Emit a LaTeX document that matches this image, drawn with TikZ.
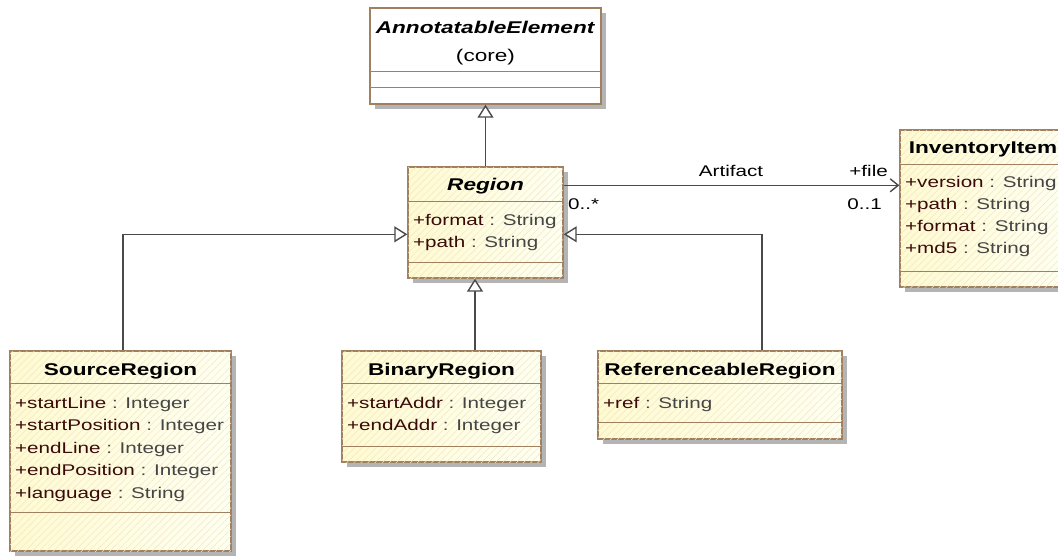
\documentclass[tikz,border=0pt]{standalone}
\usepackage{fontspec}
\setmainfont[FakeStretch=1.33]{Liberation Sans}
\usetikzlibrary{arrows.meta,calc,shadows,patterns.meta}
\definecolor{umlborder}{HTML}{A0805E}
\definecolor{umlfillL}{HTML}{FFFAD0}
\definecolor{umlfillR}{HTML}{FFFFF2}
\definecolor{umlhatch}{HTML}{EEE8C6}
\definecolor{umlshadow}{HTML}{B4B4B4}
\definecolor{umlline}{HTML}{4A4A4A}
\definecolor{attrname}{HTML}{3A0A0A}
\definecolor{attrtype}{HTML}{454545}

\newcommand{\attr}[2]{\textcolor{attrname}{+#1} \textcolor{attrtype}{: #2}}

\tikzset{
  umlclass/.style={draw=umlborder, line width=1.4pt, rectangle, inner sep=0pt,
    drop shadow={shadow xshift=5pt, shadow yshift=-5pt, fill=umlshadow, opacity=1}},
  yellowclass/.style={umlclass, left color=umlfillL, right color=umlfillR,
    postaction={pattern={Lines[angle=45, distance=5pt, line width=0.5pt]}, pattern color=umlhatch}},
  divider/.style={draw=umlborder, line width=1.4pt},
  classname/.style={font=\fontsize{17}{20}\selectfont\bfseries, inner sep=0pt, anchor=base},
  attrtext/.style={font=\fontsize{15.5}{20}\selectfont, inner sep=0pt, anchor=base west},
  lbl/.style={font=\fontsize{15.5}{20}\selectfont, inner sep=0pt},
  gen/.style={draw=umlline, line width=1.4pt, -{Triangle[open, width=16pt, length=13pt, fill=white]}},
  assoc/.style={draw=umlline, line width=1.4pt, -{Straight Barb[length=8pt, width=13pt]}}
}

\begin{document}
\begin{tikzpicture}[x=1pt, y=-1pt]
  \clip (0,0) rectangle (1058,555);
  \fill[white] (0,0) rectangle (1058,555);

  % Classes
  \node[umlclass, fill=white, minimum width=231pt, minimum height=96pt] (annot) at (485.5,56) {};
  \node[yellowclass, minimum width=155pt, minimum height=111pt] (region) at (485.5,222.5) {};
  \node[yellowclass, minimum width=166pt, minimum height=157pt] (inv) at (983,208.5) {};
  \node[yellowclass, minimum width=221pt, minimum height=200pt] (source) at (120.5,451) {};
  \node[yellowclass, minimum width=199pt, minimum height=111pt] (binary) at (441.5,406.5) {};
  \node[yellowclass, minimum width=244pt, minimum height=88pt] (refreg) at (720,395) {};

  % Compartments
  \draw[divider] ($(annot.north west)+(0,64)$) -- ($(annot.north east)+(0,64)$);
  \draw[divider] ($(annot.north west)+(0,80)$) -- ($(annot.north east)+(0,80)$);
  \draw[divider] ($(region.north west)+(0,35)$) -- ($(region.north east)+(0,35)$);
  \draw[divider] ($(region.north west)+(0,96)$) -- ($(region.north east)+(0,96)$);
  \draw[divider] ($(inv.north west)+(0,35)$) -- ($(inv.north east)+(0,35)$);
  \draw[divider] ($(inv.north west)+(0,142)$) -- ($(inv.north east)+(0,142)$);
  \draw[divider] ($(source.north west)+(0,33)$) -- ($(source.north east)+(0,33)$);
  \draw[divider] ($(source.north west)+(0,162)$) -- ($(source.north east)+(0,162)$);
  \draw[divider] ($(binary.north west)+(0,33)$) -- ($(binary.north east)+(0,33)$);
  \draw[divider] ($(binary.north west)+(0,96)$) -- ($(binary.north east)+(0,96)$);
  \draw[divider] ($(refreg.north west)+(0,33)$) -- ($(refreg.north east)+(0,33)$);
  \draw[divider] ($(refreg.north west)+(0,72)$) -- ($(refreg.north east)+(0,72)$);

  % Names
  \node[classname] (annotname) at (485.5,33) {\textit{AnnotatableElement}};
  \node[classname, font=\fontsize{17}{20}\selectfont] (annotpkg) at (485.5,61) {(core)};
  \node[classname] (regionname) at (485.5,190) {\textit{Region}};
  \node[classname] (invname) at (983,153) {InventoryItem};
  \node[classname] (sourcename) at (120.5,375) {SourceRegion};
  \node[classname] (binaryname) at (441.5,375) {BinaryRegion};
  \node[classname] (refregname) at (720,375) {ReferenceableRegion};

  % Attributes
  \node[attrtext] (regionformat) at (413,225) {\attr{format}{String}};
  \node[attrtext] (regionpath) at (413,247) {\attr{path}{String}};
  \node[attrtext] (invversion) at (905,187) {\attr{version}{String}};
  \node[attrtext] (invpath) at (905,209) {\attr{path}{String}};
  \node[attrtext] (invformat) at (905,231) {\attr{format}{String}};
  \node[attrtext] (invmd) at (905,253) {\attr{md5}{String}};
  \node[attrtext] (srcstartline) at (15,408) {\attr{startLine}{Integer}};
  \node[attrtext] (srcstartpos) at (15,430.5) {\attr{startPosition}{Integer}};
  \node[attrtext] (srcendline) at (15,453) {\attr{endLine}{Integer}};
  \node[attrtext] (srcendpos) at (15,475.5) {\attr{endPosition}{Integer}};
  \node[attrtext] (srclang) at (15,498) {\attr{language}{String}};
  \node[attrtext] (binstart) at (347,408) {\attr{startAddr}{Integer}};
  \node[attrtext] (binend) at (347,430.5) {\attr{endAddr}{Integer}};
  \node[attrtext] (refattr) at (603,408) {\attr{ref}{String}};

  % Generalizations
  \draw[gen] (region.north) -- (annot.south);
  \draw[gen] ($(source.north)+(2.5,0)$) |- ($(region.north west)+(0,68)$);
  \draw[gen] ($(binary.north -| region.south)+(-10.5,0)$) -- ($(region.south)+(-10.5,0)$);
  \draw[gen] ($(refreg.north)+(42,0)$) |- ($(region.north east)+(0,68)$);

  % Association
  \coordinate (artsrc) at ($(region.north east)+(0,19)$);
  \draw[assoc] (artsrc) -- (artsrc -| inv.west);
  \node[lbl, anchor=base] (artname) at (731,176) {Artifact};
  \node[lbl, anchor=base east] (artrole) at (888,176) {+file};
  \node[lbl, anchor=base west] (artsrcmult) at (568,209) {0..*};
  \node[lbl, anchor=base east] (artdstmult) at (882,209) {0..1};
\end{tikzpicture}
\end{document}
